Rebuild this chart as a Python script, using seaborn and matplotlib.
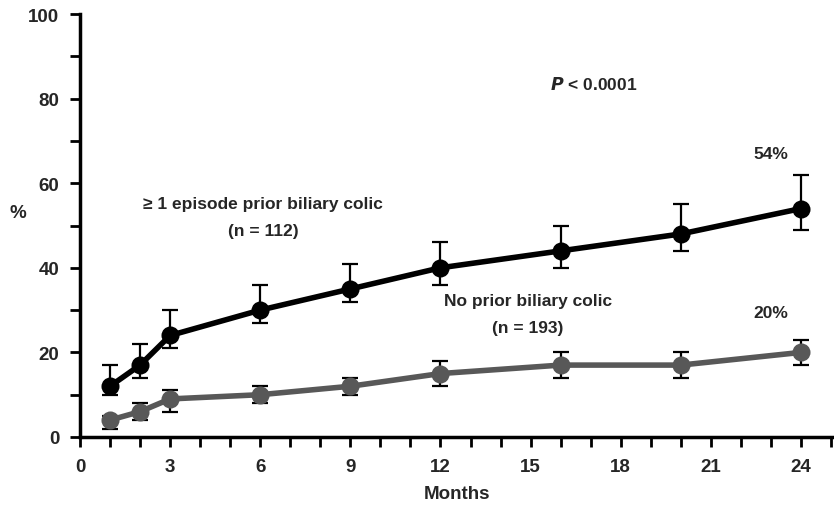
import numpy as np
import pandas as pd
import matplotlib
matplotlib.use("Agg")
import matplotlib.pyplot as plt
import seaborn as sns
from matplotlib.ticker import MultipleLocator

months = [1, 2, 3, 6, 9, 12, 16, 20, 24]
prior_vals = [12, 17, 24, 30, 35, 40, 44, 48, 54]
prior_hi = [17, 22, 30, 36, 41, 46, 50, 55, 62]
prior_lo = [10, 14, 21, 27, 32, 36, 40, 44, 49]
none_vals = [4, 6, 9, 10, 12, 15, 17, 17, 20]
none_hi = [5, 8, 11, 12, 14, 18, 20, 20, 23]
none_lo = [2, 4, 6, 8, 10, 12, 14, 14, 17]
group_names = ["≥ 1 episode prior biliary colic", "No prior biliary colic"]
x_ticklabels = ["0", "3", "6", "9", "12", "15", "18", "21", "24"]
y_ticklabels = ["0", "20", "40", "60", "80", "100"]

sns.set_theme(style="white")
plt.rcParams['font.family'] = ['Liberation Sans', 'DejaVu Sans']
plt.rcParams['font.weight'] = 'bold'

df = pd.DataFrame({
    "Months": months * 2,
    "pct": prior_vals + none_vals,
    "group": [group_names[0]] * len(months) + [group_names[1]] * len(months),
})

fig = plt.figure(figsize=(8.34, 5.06), dpi=100)
ax = fig.add_axes([80 / 834, 1 - 438 / 506, 1 - 80 / 834, (438 - 15) / 506])

colors = {group_names[0]: "#000000", group_names[1]: "#585858"}

# error bars
for vals, hi, lo in [(prior_vals, prior_hi, prior_lo), (none_vals, none_hi, none_lo)]:
    v = np.array(vals); h = np.array(hi); l = np.array(lo)
    ax.errorbar(months, v, yerr=[v - l, h - v], fmt="none", ecolor="#000000",
                elinewidth=1.6, capsize=5.5, capthick=1.6, zorder=2)

sns.lineplot(data=df, x="Months", y="pct", hue="group", palette=colors,
             marker="o", markersize=13, linewidth=4, markeredgewidth=0,
             legend=False, ax=ax, zorder=3)

ax.set_xlim(0, 25.1)
ax.set_ylim(0, 100)
ax.xaxis.set_minor_locator(MultipleLocator(1))
ax.yaxis.set_minor_locator(MultipleLocator(10))
ax.set_xticks(range(0, 25, 3))
ax.set_xticklabels(x_ticklabels)
ax.set_yticks(range(0, 101, 20))
ax.set_yticklabels(y_ticklabels)

fp = matplotlib.font_manager.FontProperties(family=['Liberation Sans Narrow', 'Liberation Sans', 'DejaVu Sans'], weight='bold', size=13.5)
for lab in ax.get_xticklabels() + ax.get_yticklabels():
    lab.set_fontproperties(fp)

ax.tick_params(which="both", direction="out", width=2, color="black",
               bottom=True, left=True)
ax.tick_params(which="major", length=7, pad=8)
ax.tick_params(which="minor", length=7)
for s in ["top", "right"]:
    ax.spines[s].set_visible(False)
for s in ["left", "bottom"]:
    ax.spines[s].set_linewidth(2.5)
    ax.spines[s].set_color("black")

ax.set_xlabel("Months", fontproperties=fp, labelpad=7)
ax.set_ylabel("")
fig.text(18 / 834, 1 - 214 / 506, "%", ha="center", va="center", fontsize=13.5, fontweight="bold")

tfs = 12.5
ax.text(17.1, 83.5, r"$\bf{\it{P}}$ < 0.0001", ha="center", va="center", fontsize=tfs, fontweight="bold")
ax.text(6.1, 55.2, group_names[0], ha="center", va="center", fontsize=tfs, fontweight="bold")
ax.text(6.1, 48.7, "(n = 112)", ha="center", va="center", fontsize=tfs, fontweight="bold")
ax.text(14.9, 32.2, group_names[1], ha="center", va="center", fontsize=tfs, fontweight="bold")
ax.text(14.9, 25.8, "(n = 193)", ha="center", va="center", fontsize=tfs, fontweight="bold")
ax.text(23.0, 67, "54%", ha="center", va="center", fontsize=tfs, fontweight="bold")
ax.text(23.0, 29.5, "20%", ha="center", va="center", fontsize=tfs, fontweight="bold")

fig.savefig("out.png", dpi=100)
